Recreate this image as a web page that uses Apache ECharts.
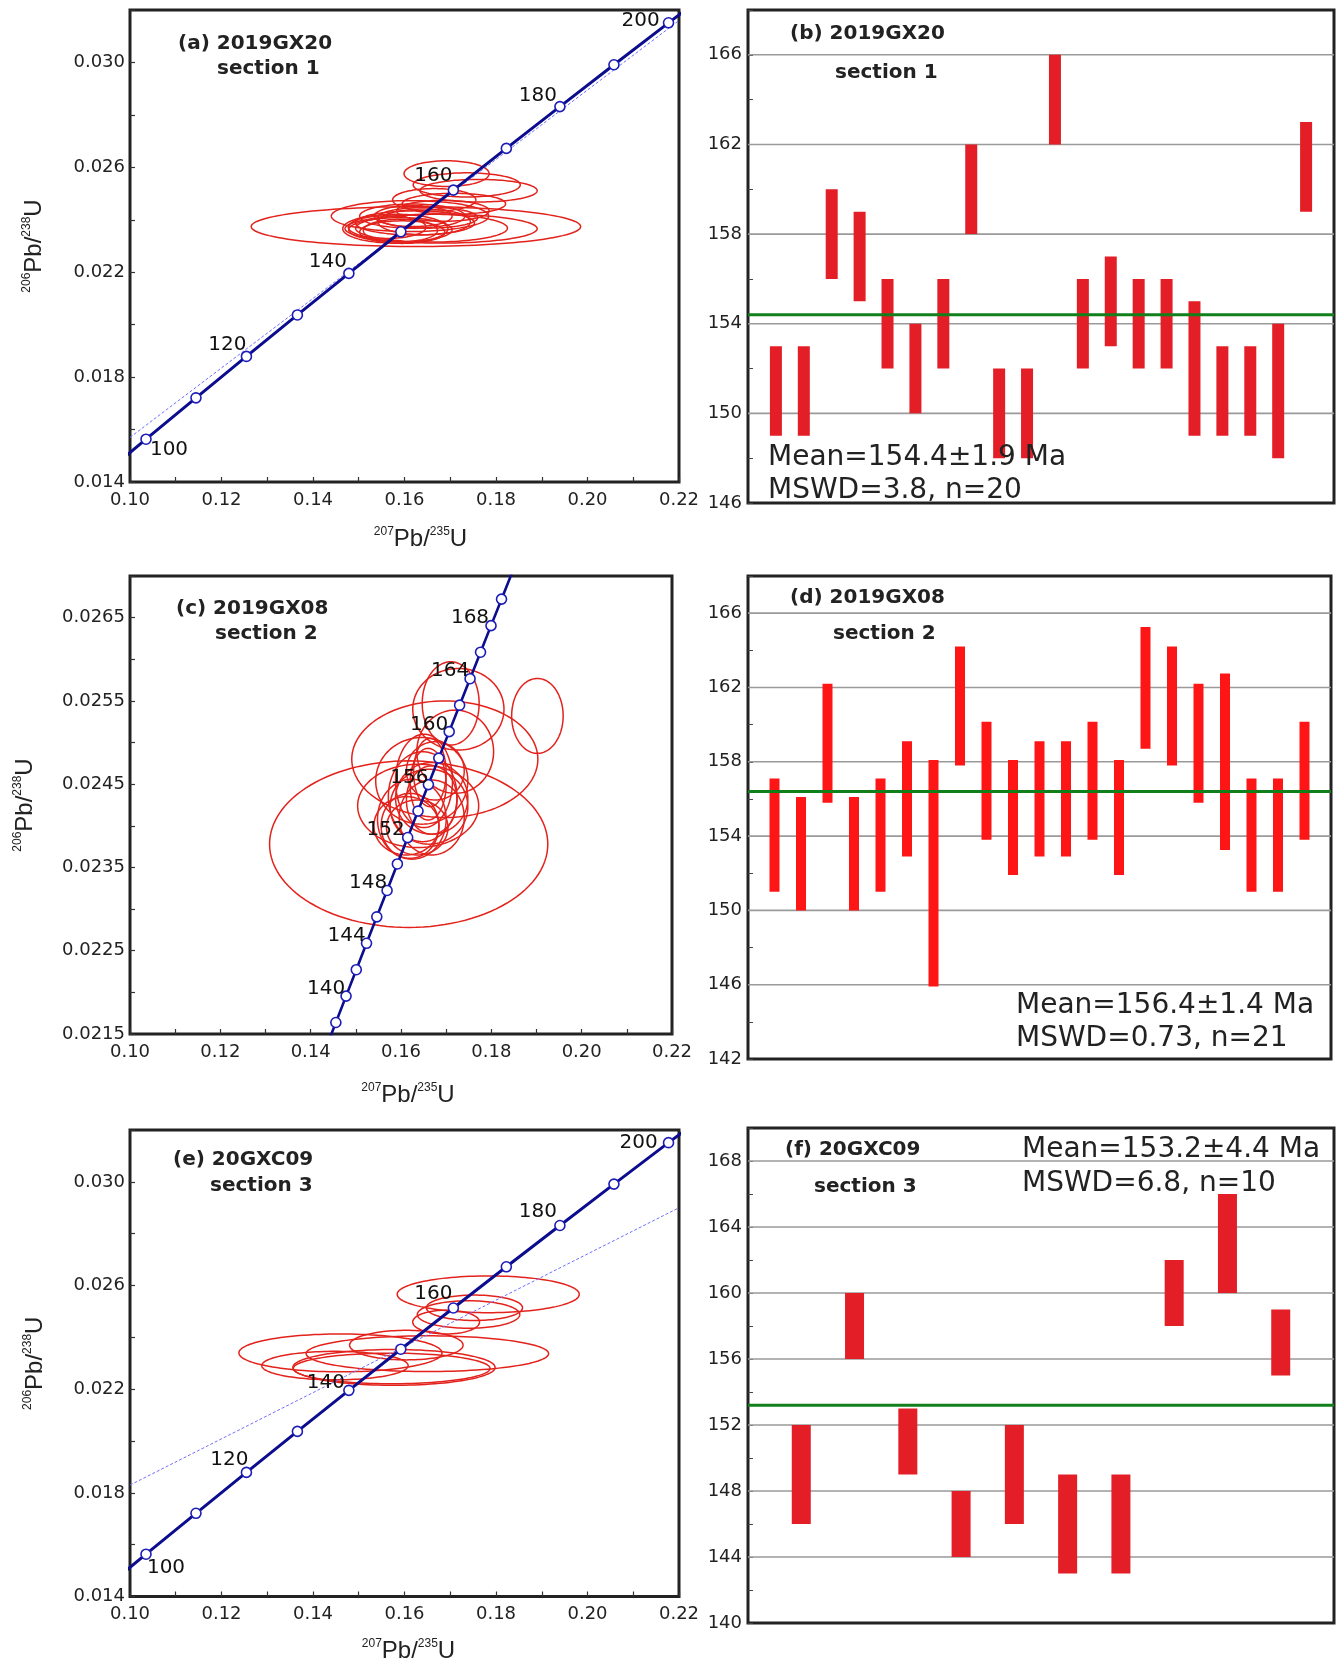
<!DOCTYPE html>
<html><head><meta charset="utf-8">
<script src="https://cdn.jsdelivr.net/npm/echarts@6/dist/echarts.min.js"></script>
<style>html,body{margin:0;padding:0;background:#fff}#c{width:1341px;height:1664px}</style>
</head><body><div id="c"></div>
<script>
// ---------------- DATA ----------------
// Concordia reference points (age in Ma, 207Pb/235U, 206Pb/238U) used in panels (a) and (e)
const concAges = [90, 100, 110, 120, 130, 140, 150, 160, 170, 180, 190, 200, 210];
const concX = [0.09268, 0.10350, 0.11442, 0.12545, 0.13659, 0.14784, 0.15920, 0.17068, 0.18226, 0.19397, 0.20578, 0.21771, 0.22976];
const concY = [0.014059, 0.015633, 0.017210, 0.018789, 0.020371, 0.021955, 0.023542, 0.025131, 0.026722, 0.028316, 0.029912, 0.031511, 0.033113];
const concMarkerAges = [100, 110, 120, 130, 140, 150, 160, 170, 180, 190, 200];

// Concordia reference points for panel (c)
const concAgesC = [136, 138, 140, 142, 144, 146, 148, 150, 152, 154, 156, 158, 160, 162, 164, 166, 168, 170, 172];
const concXC = [0.143324, 0.145578, 0.147837, 0.150099, 0.152367, 0.154639, 0.156916, 0.159198, 0.161482, 0.163772, 0.166067, 0.168366, 0.170670, 0.172978, 0.175291, 0.177608, 0.179929, 0.182257, 0.184587];
const concYC = [0.021321, 0.021638, 0.021955, 0.022272, 0.022589, 0.022907, 0.023224, 0.023542, 0.023859, 0.024177, 0.024495, 0.024813, 0.025131, 0.025449, 0.025767, 0.026085, 0.026404, 0.026722, 0.027040];
const concMarkerAgesC = [138, 140, 142, 144, 146, 148, 150, 152, 154, 156, 158, 160, 162, 164, 166, 168, 170];

// thin reference lines
const refLineA = [[0.10, 0.0157], [0.22, 0.0316]];
const refLineE = [[0.10, 0.0183], [0.22, 0.0290]];

// error ellipses: [207Pb/235U, 206Pb/238U, half-width x, half-height y]
const ellipsesA = [
  [0.1692, 0.02576, 0.0093, 0.00049], [0.1736, 0.02533, 0.0117, 0.00046], [0.1762, 0.02511, 0.0128, 0.00043],
  [0.1665, 0.02476, 0.0091, 0.00043], [0.1708, 0.02461, 0.0113, 0.00040], [0.1625, 0.02374, 0.0360, 0.00076],
  [0.1612, 0.02414, 0.0172, 0.00059], [0.1617, 0.02414, 0.0115, 0.00046], [0.1651, 0.02408, 0.0109, 0.00040],
  [0.1680, 0.02366, 0.0210, 0.00055], [0.1580, 0.02366, 0.0115, 0.00055], [0.1591, 0.02362, 0.0113, 0.00046],
  [0.1659, 0.02368, 0.0166, 0.00053], [0.1595, 0.02353, 0.0093, 0.00043], [0.1591, 0.02359, 0.0081, 0.00043],
  [0.1643, 0.02392, 0.0101, 0.00049], [0.1684, 0.02434, 0.0101, 0.00040], [0.1562, 0.02372, 0.0085, 0.00043],
  [0.1623, 0.02388, 0.0130, 0.00046], [0.1619, 0.02414, 0.0085, 0.00040]
];
const ellipsesC = [
  [0.1617, 0.02378, 0.0308, 0.00100], [0.1902, 0.02532, 0.0057, 0.00045], [0.1697, 0.02480, 0.0206, 0.00070],
  [0.1710, 0.02547, 0.0063, 0.00050], [0.1727, 0.02540, 0.0101, 0.00049], [0.1646, 0.02454, 0.0102, 0.00052],
  [0.1638, 0.02424, 0.0134, 0.00050], [0.1624, 0.02408, 0.0076, 0.00048], [0.1648, 0.02435, 0.0076, 0.00054],
  [0.1651, 0.02454, 0.0063, 0.00056], [0.1660, 0.02450, 0.0040, 0.00043], [0.1662, 0.02423, 0.0086, 0.00045],
  [0.1620, 0.02400, 0.0064, 0.00039], [0.1668, 0.02431, 0.0056, 0.00041], [0.1664, 0.02464, 0.0036, 0.00041],
  [0.1668, 0.02410, 0.0072, 0.00045], [0.1612, 0.02400, 0.0072, 0.00035], [0.1720, 0.02489, 0.0085, 0.00050],
  [0.1668, 0.02433, 0.0080, 0.00043], [0.1636, 0.02398, 0.0068, 0.00033], [0.1676, 0.02466, 0.0064, 0.00035]
];
const ellipsesE = [
  [0.1783, 0.02566, 0.0199, 0.00071], [0.1753, 0.02514, 0.0105, 0.00049], [0.1740, 0.02488, 0.0112, 0.00053],
  [0.1691, 0.02459, 0.0073, 0.00046], [0.1604, 0.02370, 0.0124, 0.00057], [0.1460, 0.02340, 0.0222, 0.00073],
  [0.1650, 0.02337, 0.0265, 0.00069], [0.1448, 0.02291, 0.0160, 0.00055], [0.1577, 0.02284, 0.0221, 0.00069],
  [0.1572, 0.02280, 0.0215, 0.00059]
];

// weighted-mean age bars (Ma): lower and upper ends
const barsBLow  = [149, 149, 156, 155, 152, 150, 152, 158, 148, 148, 162, 152, 153, 152, 152, 149, 149, 149, 148, 159];
const barsBHigh = [153, 153, 160, 159, 156, 154, 156, 162, 152, 152, 166, 156, 157, 156, 156, 155, 153, 153, 154, 163];
const meanB = 154.4;
const barsDLow  = [151.0, 150.0, 155.8, 150.0, 151.0, 152.9, 145.9, 157.8, 153.8, 151.9, 152.9, 152.9, 153.8, 151.9, 158.7, 157.8, 155.8, 153.25, 151.0, 151.0, 153.8];
const barsDHigh = [157.1, 156.1, 162.2, 156.1, 157.1, 159.1, 158.1, 164.2, 160.15, 158.1, 159.1, 159.1, 160.15, 158.1, 165.26, 164.2, 162.2, 162.75, 157.1, 157.1, 160.15];
const meanD = 156.4;
const barsFLow  = [146, 156, 149, 144, 146, 143, 143, 158, 160, 155];
const barsFHigh = [152, 160, 153, 148, 152, 149, 149, 162, 166, 159];
const meanF = 153.2;

// grid lines of the age plots
const gridValsB = [150, 154, 158, 162, 166];
const gridValsD = [146, 150, 154, 158, 162, 166];
const gridValsF = [144, 148, 152, 156, 160, 164, 168];

// ---------------- STYLE / LAYOUT ----------------
const FONT = '"DejaVu Sans", sans-serif';
const ARIAL = '"Liberation Sans", Arial, sans-serif';
const TXT = '#222';
const grids = [
  {left: 130, top: 10, width: 549, height: 472},
  {left: 748, top: 10, width: 586, height: 493},
  {left: 130, top: 576, width: 542, height: 458},
  {left: 748, top: 576, width: 583, height: 483},
  {left: 130, top: 1130, width: 549, height: 470},
  {left: 748, top: 1128, width: 586, height: 495}
].map(g => Object.assign({show: true, borderColor: '#222', borderWidth: 3, backgroundColor: 'transparent', containLabel: false}, g));

const supRich = {
  s: {fontSize: 12, fontFamily: ARIAL, color: TXT, verticalAlign: 'top', lineHeight: 27},
  m: {fontSize: 24, fontFamily: ARIAL, color: TXT, lineHeight: 27}
};
const xName = '{s|207}{m|Pb/}{s|235}{m|U}';
const yName = '{s|206}{m|Pb/}{s|238}{m|U}';

function concXAxis(gi, gap, shift) {
  return {
    gridIndex: gi, type: 'value', min: 0.10, max: 0.22, interval: 0.01,
    name: xName, nameLocation: 'middle', nameGap: gap,
    nameTextStyle: {rich: supRich, padding: [0, 0, 0, shift * 2]},
    axisLine: {show: false}, splitLine: {show: false},
    axisTick: {show: true, inside: true, length: 5, lineStyle: {color: '#333', width: 1.2}},
    axisLabel: {
      margin: 9, fontSize: 18, fontFamily: FONT, color: TXT, showMinLabel: true, showMaxLabel: true,
      formatter: v => (Math.round(v * 100) % 2 === 0 ? v.toFixed(2) : '')
    }
  };
}
function concYAxis(gi, min, max, step, digits, gap) {
  return {
    gridIndex: gi, type: 'value', min: min, max: max, interval: step,
    name: yName, nameLocation: 'middle', nameRotate: 90, nameGap: gap, nameTextStyle: {rich: supRich},
    axisLine: {show: false}, splitLine: {show: false},
    axisTick: {show: true, inside: true, length: 5, lineStyle: {color: '#333', width: 1.2}},
    axisLabel: {
      margin: 5, fontSize: 18, fontFamily: FONT, color: TXT, showMinLabel: true, showMaxLabel: true,
      formatter: v => (Math.round((v - min) / step) % 2 === 0 ? v.toFixed(digits) : '')
    }
  };
}
function barXAxis(gi, n) {
  return {gridIndex: gi, type: 'value', min: 0, max: n + 1, show: false};
}
function barYAxis(gi, min, max) {
  return {
    gridIndex: gi, type: 'value', min: min, max: max, interval: 2,
    axisLine: {show: false}, splitLine: {show: false},
    axisTick: {show: true, inside: true, length: 5, lineStyle: {color: '#444', width: 1}},
    axisLabel: {
      margin: 6, fontSize: 18, fontFamily: FONT, color: TXT, showMinLabel: true, showMaxLabel: true,
      formatter: v => ((Math.round(v - min) % 4) === 0 ? String(v) : '')
    }
  };
}

function ellipseSeries(gi, data) {
  return {
    type: 'custom', xAxisIndex: gi, yAxisIndex: gi, z: 2, clip: true, silent: true,
    encode: {x: 0, y: 1},
    data: data,
    renderItem: function (params, api) {
      const cx = api.value(0), cy = api.value(1), ax = api.value(2), by = api.value(3);
      const pts = [];
      for (let k = 0; k < 120; k++) {
        const t = 2 * Math.PI * k / 120;
        pts.push(api.coord([cx + ax * Math.cos(t), cy + by * Math.sin(t)]));
      }
      return {type: 'polygon', shape: {points: pts}, style: {fill: 'none', stroke: '#e3221c', lineWidth: 1.5}};
    }
  };
}
function refLineSeries(gi, data) {
  return {
    type: 'line', xAxisIndex: gi, yAxisIndex: gi, z: 3, data: data, symbol: 'none', silent: true,
    lineStyle: {color: '#6f6fff', width: 1, type: [3, 2]}
  };
}
function concLineSeries(gi, xs, ys, w) {
  return {
    type: 'line', xAxisIndex: gi, yAxisIndex: gi, z: 4, symbol: 'none', silent: true, clip: true,
    data: xs.map((x, i) => [x, ys[i]]),
    lineStyle: {color: '#0c0c8e', width: w}
  };
}
function concMarkerSeries(gi, ages, xs, ys, markerAges, offsets) {
  const items = [];
  ages.forEach((a, i) => {
    if (markerAges.indexOf(a) < 0) return;
    const off = offsets[a];
    items.push({
      value: [xs[i], ys[i]],
      label: off ? {show: true, position: 'inside', offset: off, formatter: String(a),
        color: '#111', fontSize: 20, fontFamily: FONT} : {show: false}
    });
  });
  return {
    type: 'scatter', xAxisIndex: gi, yAxisIndex: gi, z: 5, silent: true,
    symbol: 'circle', symbolSize: 10, data: items,
    itemStyle: {color: '#fff', borderColor: '#1c1cb8', borderWidth: 1.6, opacity: 1},
    emphasis: {disabled: true}
  };
}

function hLineSeries(gi, vals, color, width, z) {
  return {
    type: 'custom', xAxisIndex: gi, yAxisIndex: gi, z: z, silent: true,
    encode: {y: 0},
    data: vals.map(v => [v]),
    renderItem: function (params, api) {
      const cs = params.coordSys;
      const y = api.coord([0, api.value(0)])[1];
      return {type: 'line', shape: {x1: cs.x, y1: y, x2: cs.x + cs.width, y2: y},
        style: {stroke: color, lineWidth: width}};
    }
  };
}
function barSeries(gi, lows, highs, color, w) {
  return {
    type: 'custom', xAxisIndex: gi, yAxisIndex: gi, z: 3, silent: true,
    encode: {x: 0, y: [1, 2]},
    data: lows.map((lo, i) => [i + 1, lo, highs[i]]),
    renderItem: function (params, api) {
      const top = api.coord([api.value(0), api.value(2)]);
      const bot = api.coord([api.value(0), api.value(1)]);
      return {type: 'rect', shape: {x: top[0] - w / 2, y: top[1], width: w, height: bot[1] - top[1]},
        style: {fill: color}};
    }
  };
}

const offA = {100: [23, 11], 120: [-19, -12], 140: [-21, -12], 160: [-20, -14], 180: [-22, -11], 200: [-28, -2]};
const offC = {140: [-20, -7], 144: [-20, -8], 148: [-19, -8], 152: [-22, -8], 156: [-19, -7], 160: [-20, -7], 164: [-20, -8], 168: [-21, -8]};
const offE = {100: [20, 14], 120: [-17, -13], 140: [-23, -8], 160: [-20, -14], 180: [-22, -14], 200: [-30, 0]};

function txt(x, y, text, font) {
  return {type: 'text', x: x, y: y, z: 100, silent: true,
    style: {text: text, font: font, fill: TXT, align: 'left', verticalAlign: 'middle'}};
}
const TITLE = 'bold 20px "DejaVu Sans", sans-serif';
const MEAN = '28px "DejaVu Sans", sans-serif';

const option = {
  animation: false,
  backgroundColor: '#fff',
  textStyle: {fontFamily: FONT},
  grid: grids,
  xAxis: [
    concXAxis(0, 44, 16), barXAxis(1, barsBLow.length),
    concXAxis(2, 48, 7), barXAxis(3, barsDLow.length),
    concXAxis(4, 41, 4), barXAxis(5, barsFLow.length)
  ],
  yAxis: [
    concYAxis(0, 0.014, 0.032, 0.002, 3, 82), barYAxis(1, 146, 168),
    concYAxis(2, 0.0215, 0.027, 0.0005, 4, 91), barYAxis(3, 142, 168),
    concYAxis(4, 0.014, 0.032, 0.002, 3, 81), barYAxis(5, 140, 170)
  ],
  series: [
    ellipseSeries(0, ellipsesA), refLineSeries(0, refLineA),
    concLineSeries(0, concX, concY, 3), concMarkerSeries(0, concAges, concX, concY, concMarkerAges, offA),
    ellipseSeries(2, ellipsesC),
    concLineSeries(2, concXC, concYC, 2.6), concMarkerSeries(2, concAgesC, concXC, concYC, concMarkerAgesC, offC),
    ellipseSeries(4, ellipsesE), refLineSeries(4, refLineE),
    concLineSeries(4, concX, concY, 3), concMarkerSeries(4, concAges, concX, concY, concMarkerAges, offE),
    hLineSeries(1, gridValsB, '#9a9a9a', 1.6, 1), barSeries(1, barsBLow, barsBHigh, '#e31e26', 12), hLineSeries(1, [meanB], '#12801a', 3, 6),
    hLineSeries(3, gridValsD, '#9a9a9a', 1.6, 1), barSeries(3, barsDLow, barsDHigh, '#fe1616', 10), hLineSeries(3, [meanD], '#12801a', 3, 6),
    hLineSeries(5, gridValsF, '#9a9a9a', 1.6, 1), barSeries(5, barsFLow, barsFHigh, '#e31e26', 19), hLineSeries(5, [meanF], '#12801a', 3, 6)
  ],
  graphic: [
    txt(178, 44, '(a) 2019GX20', TITLE), txt(217, 69, 'section 1', TITLE),
    txt(790, 34, '(b) 2019GX20', TITLE), txt(835, 73, 'section 1', TITLE),
    txt(176, 609, '(c) 2019GX08', TITLE), txt(215, 634, 'section 2', TITLE),
    txt(790, 598, '(d) 2019GX08', TITLE), txt(833, 634, 'section 2', TITLE),
    txt(173, 1160, '(e) 20GXC09', TITLE), txt(210, 1186, 'section 3', TITLE),
    txt(785, 1150, '(f) 20GXC09', TITLE), txt(814, 1187, 'section 3', TITLE),
    txt(768, 458, 'Mean=154.4±1.9 Ma', MEAN), txt(768, 491, 'MSWD=3.8, n=20', MEAN),
    txt(1016, 1006, 'Mean=156.4±1.4 Ma', MEAN), txt(1016, 1039, 'MSWD=0.73, n=21', MEAN),
    txt(1022, 1150, 'Mean=153.2±4.4 Ma', MEAN), txt(1022, 1184, 'MSWD=6.8, n=10', MEAN)
  ]
};

const chart = echarts.init(document.getElementById('c'), null, {renderer: 'canvas'});
chart.setOption(option);
</script>
</body></html>
